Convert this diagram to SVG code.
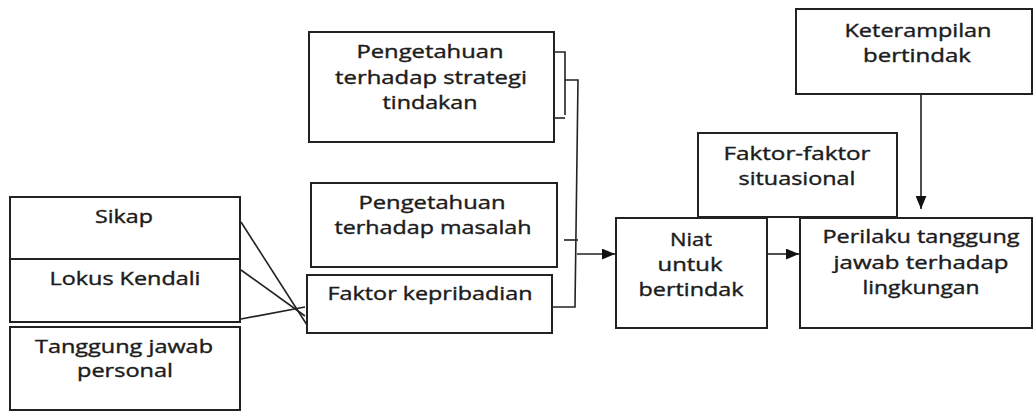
<svg xmlns="http://www.w3.org/2000/svg" width="1034" height="412" viewBox="0 0 1034 412">
<defs>
<style>
.box{fill:#fff;stroke:#222;stroke-width:2}
.t{font-family:"Open Sans","Liberation Sans",sans-serif;font-size:19px;font-weight:400;fill:#1c1c1c;stroke:#1c1c1c;stroke-width:0.4;text-anchor:middle}
.c{fill:none;stroke:#222;stroke-width:1.6}
</style>
<marker id="ah2" viewBox="0 0 12 10" refX="12" refY="5" markerWidth="13" markerHeight="11" markerUnits="userSpaceOnUse" orient="auto">
<path d="M0,0 L12,5 L0,10 z" fill="#111"/>
</marker>
</defs>
<rect width="1034" height="412" fill="#fff"/>

<g id="connectors">
<line class="c" x1="241" y1="222" x2="307" y2="325"/>
<line class="c" x1="241" y1="270" x2="305" y2="316"/>
<line class="c" x1="241" y1="319" x2="305" y2="307"/>
<polyline class="c" points="552,52 565,52 565,115"/>
<line class="c" x1="549" y1="118" x2="565" y2="118"/>
<path class="c" d="M565 80 H578 L575 307 H552"/>
<line class="c" x1="564" y1="240" x2="578" y2="240"/>
<line class="c" x1="577" y1="254" x2="615" y2="254" marker-end="url(#ah2)"/>
<line class="c" x1="767" y1="254" x2="799" y2="254" marker-end="url(#ah2)"/>
<line class="c" x1="921" y1="94" x2="921" y2="209" marker-end="url(#ah2)"/>
</g>

<g id="sikap">
<rect class="box" x="10" y="197" width="230" height="62"/>
<text class="t" x="124" y="223" textLength="58" lengthAdjust="spacingAndGlyphs">Sikap</text>
</g>
<g id="lokus">
<rect class="box" x="10" y="259" width="230" height="63"/>
<text class="t" x="125" y="285" textLength="151" lengthAdjust="spacingAndGlyphs">Lokus Kendali</text>
</g>
<g id="tanggung">
<rect class="box" x="10" y="327" width="230" height="83"/>
<text class="t" x="124" y="353" textLength="178" lengthAdjust="spacingAndGlyphs">Tanggung jawab</text>
<text class="t" x="125" y="377" textLength="96" lengthAdjust="spacingAndGlyphs">personal</text>
</g>
<g id="strategi">
<rect class="box" x="309" y="32" width="245" height="110"/>
<text class="t" x="430" y="58" textLength="147" lengthAdjust="spacingAndGlyphs">Pengetahuan</text>
<text class="t" x="431" y="84" textLength="192" lengthAdjust="spacingAndGlyphs">terhadap strategi</text>
<text class="t" x="430" y="109" textLength="95" lengthAdjust="spacingAndGlyphs">tindakan</text>
</g>
<g id="masalah">
<rect class="box" x="311" y="183" width="246" height="84"/>
<text class="t" x="432" y="209" textLength="147" lengthAdjust="spacingAndGlyphs">Pengetahuan</text>
<text class="t" x="433" y="234" textLength="197" lengthAdjust="spacingAndGlyphs">terhadap masalah</text>
</g>
<g id="kepribadian">
<rect class="box" x="307" y="275" width="245" height="58"/>
<text class="t" x="430" y="300" textLength="205" lengthAdjust="spacingAndGlyphs">Faktor kepribadian</text>
</g>
<g id="niat">
<rect class="box" x="616" y="218" width="151" height="110"/>
<text class="t" x="691" y="246" textLength="42" lengthAdjust="spacingAndGlyphs">Niat</text>
<text class="t" x="690" y="271" textLength="65" lengthAdjust="spacingAndGlyphs">untuk</text>
<text class="t" x="691" y="296" textLength="105" lengthAdjust="spacingAndGlyphs">bertindak</text>
</g>
<g id="situasional">
<rect class="box" x="698" y="133" width="199" height="84"/>
<text class="t" x="797" y="160" textLength="147" lengthAdjust="spacingAndGlyphs">Faktor-faktor</text>
<text class="t" x="797" y="185" textLength="117" lengthAdjust="spacingAndGlyphs">situasional</text>
</g>
<g id="perilaku">
<rect class="box" x="800" y="218" width="232" height="110"/>
<text class="t" x="921" y="243" textLength="197" lengthAdjust="spacingAndGlyphs">Perilaku tanggung</text>
<text class="t" x="921" y="269" textLength="175" lengthAdjust="spacingAndGlyphs">jawab terhadap</text>
<text class="t" x="921" y="294" textLength="117" lengthAdjust="spacingAndGlyphs">lingkungan</text>
</g>
<g id="keterampilan">
<rect class="box" x="796" y="9" width="236" height="85"/>
<text class="t" x="918" y="37" textLength="147" lengthAdjust="spacingAndGlyphs">Keterampilan</text>
<text class="t" x="917" y="62" textLength="108" lengthAdjust="spacingAndGlyphs">bertindak</text>
</g>
</svg>
